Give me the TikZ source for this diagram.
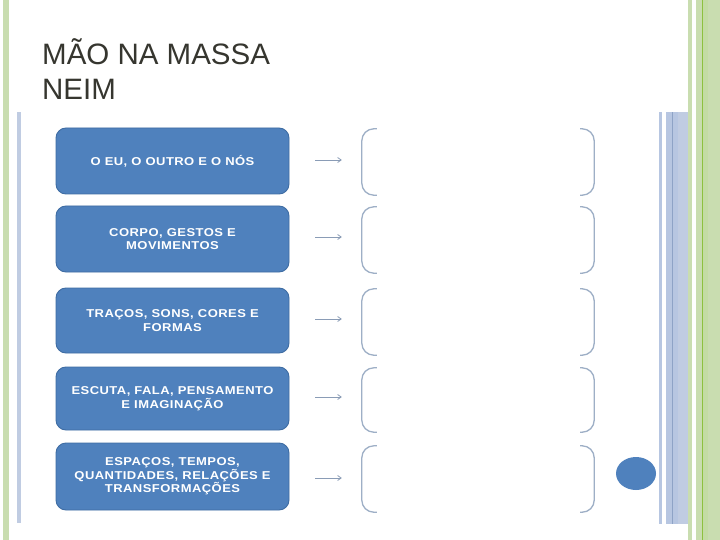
\documentclass[tikz,border=0pt]{standalone}
\usepackage{fontspec}
\setmainfont{Liberation Sans}
\newfontfamily\boxfont[FakeStretch=1.14,LetterSpace=4]{Liberation Sans}
\usetikzlibrary{arrows.meta,shapes.geometric}
\definecolor{boxblue}{HTML}{4F81BD}
\definecolor{boxedge}{HTML}{3E6CA3}
\definecolor{brk}{HTML}{9EAFC6}
\definecolor{arrc}{HTML}{8A9CB6}
\definecolor{titlec}{HTML}{36362F}
\definecolor{lgreen}{HTML}{C9DDB0}
\definecolor{mgreen}{HTML}{C3DCA4}
\definecolor{dgreen}{HTML}{8DC13F}
\definecolor{lblue}{HTML}{B7C6E1}
\definecolor{dblue}{HTML}{8EA3C6}
\definecolor{pblue}{HTML}{C0CCE2}
\tikzset{
  catbox/.style={draw=boxedge, line width=0.9pt, fill=boxblue, rounded corners=10pt,
    minimum width=233pt, text=white, align=center, inner sep=0pt,
    font=\boxfont\bfseries\fontsize{11.4pt}{13.5pt}\selectfont},
  brkarea/.style={minimum width=232pt, inner sep=0pt, draw=none},
  brkline/.style={draw=brk, line width=1.3pt, rounded corners=12pt},
  arr/.style={draw=arrc, line width=0.8pt, -{Straight Barb[length=3.5pt,width=5pt]}},
  title/.style={anchor=base west, inner sep=0pt, text=titlec,
    font=\fontsize{29.5pt}{34pt}\selectfont}
}
\begin{document}
\begin{tikzpicture}[x=1pt,y=-1pt]
\useasboundingbox (0,0) rectangle (720,540);
\fill[white] (0,0) rectangle (720,540);
% left decorations
\fill[lgreen] (3,0) rectangle (9,540);
\fill[pblue] (17,112) rectangle (21,523);
% right decorations
\fill[lblue] (659,112) rectangle (662,524);
\fill[lblue] (666,112) rectangle (688,524);
\fill[pblue] (678,112) rectangle (688,524);
\fill[dblue] (671.5,112) rectangle (672.6,524);
\fill[lgreen] (688,0) rectangle (692,540);
\fill[lgreen] (696,0) rectangle (720,540);
\fill[mgreen] (703,0) rectangle (708,540);
\fill[dgreen] (701.8,0) rectangle (703,540);
% title
\node[title] (t1) at (42,65) {MÃO NA MASSA};
\node[title] (t2) at (42,100) {NEIM};
% boxes
\node[catbox, minimum height=66pt] (b1) at (172.5,161) {O EU, O OUTRO E O NÓS};
\node[catbox, minimum height=66pt] (b2) at (172.5,239) {CORPO, GESTOS E\\MOVIMENTOS};
\node[catbox, minimum height=65pt] (b3) at (172.5,320.5) {TRAÇOS, SONS, CORES E\\FORMAS};
\node[catbox, minimum height=63pt] (b4) at (172.5,398.5) {ESCUTA, FALA, PENSAMENTO\\E IMAGINAÇÃO};
\node[catbox, minimum height=67pt] (b5) at (172.5,476.5) {ESPAÇOS, TEMPOS,\\QUANTIDADES, RELAÇÕES E\\TRANSFORMAÇÕES};
% bracket areas
\node[brkarea, minimum height=66pt] (r1) at (478,162) {};
\node[brkarea, minimum height=66pt] (r2) at (478,240) {};
\node[brkarea, minimum height=66pt] (r3) at (478,322) {};
\node[brkarea, minimum height=64pt] (r4) at (478,400) {};
\node[brkarea, minimum height=66pt] (r5) at (478,479) {};
\foreach \r in {r1,r2,r3,r4,r5}{
  \draw[brkline] ([xshift=15pt]\r.north west) -- (\r.north west) -- (\r.south west) -- ([xshift=15pt]\r.south west);
  \draw[brkline] ([xshift=-14pt]\r.north east) -- (\r.north east) -- (\r.south east) -- ([xshift=-14pt]\r.south east);
}
% arrows
\draw[arr] ([xshift=26pt,yshift=1pt]b1.east) -- ([xshift=-20pt,yshift=2pt]r1.west);
\draw[arr] ([xshift=26pt,yshift=2pt]b2.east) -- ([xshift=-20pt,yshift=3pt]r2.west);
\draw[arr] ([xshift=26pt,yshift=1.5pt]b3.east) -- ([xshift=-20pt,yshift=3pt]r3.west);
\draw[arr] ([xshift=26pt,yshift=1.5pt]b4.east) -- ([xshift=-20pt,yshift=3pt]r4.west);
\draw[arr] ([xshift=26pt,yshift=-1.5pt]b5.east) -- ([xshift=-20pt,yshift=1pt]r5.west);
% circle
\node[draw=none, fill=boxblue, ellipse, minimum width=40pt, minimum height=33pt, inner sep=0pt] (c) at (636,473.5) {};
\end{tikzpicture}
\end{document}
